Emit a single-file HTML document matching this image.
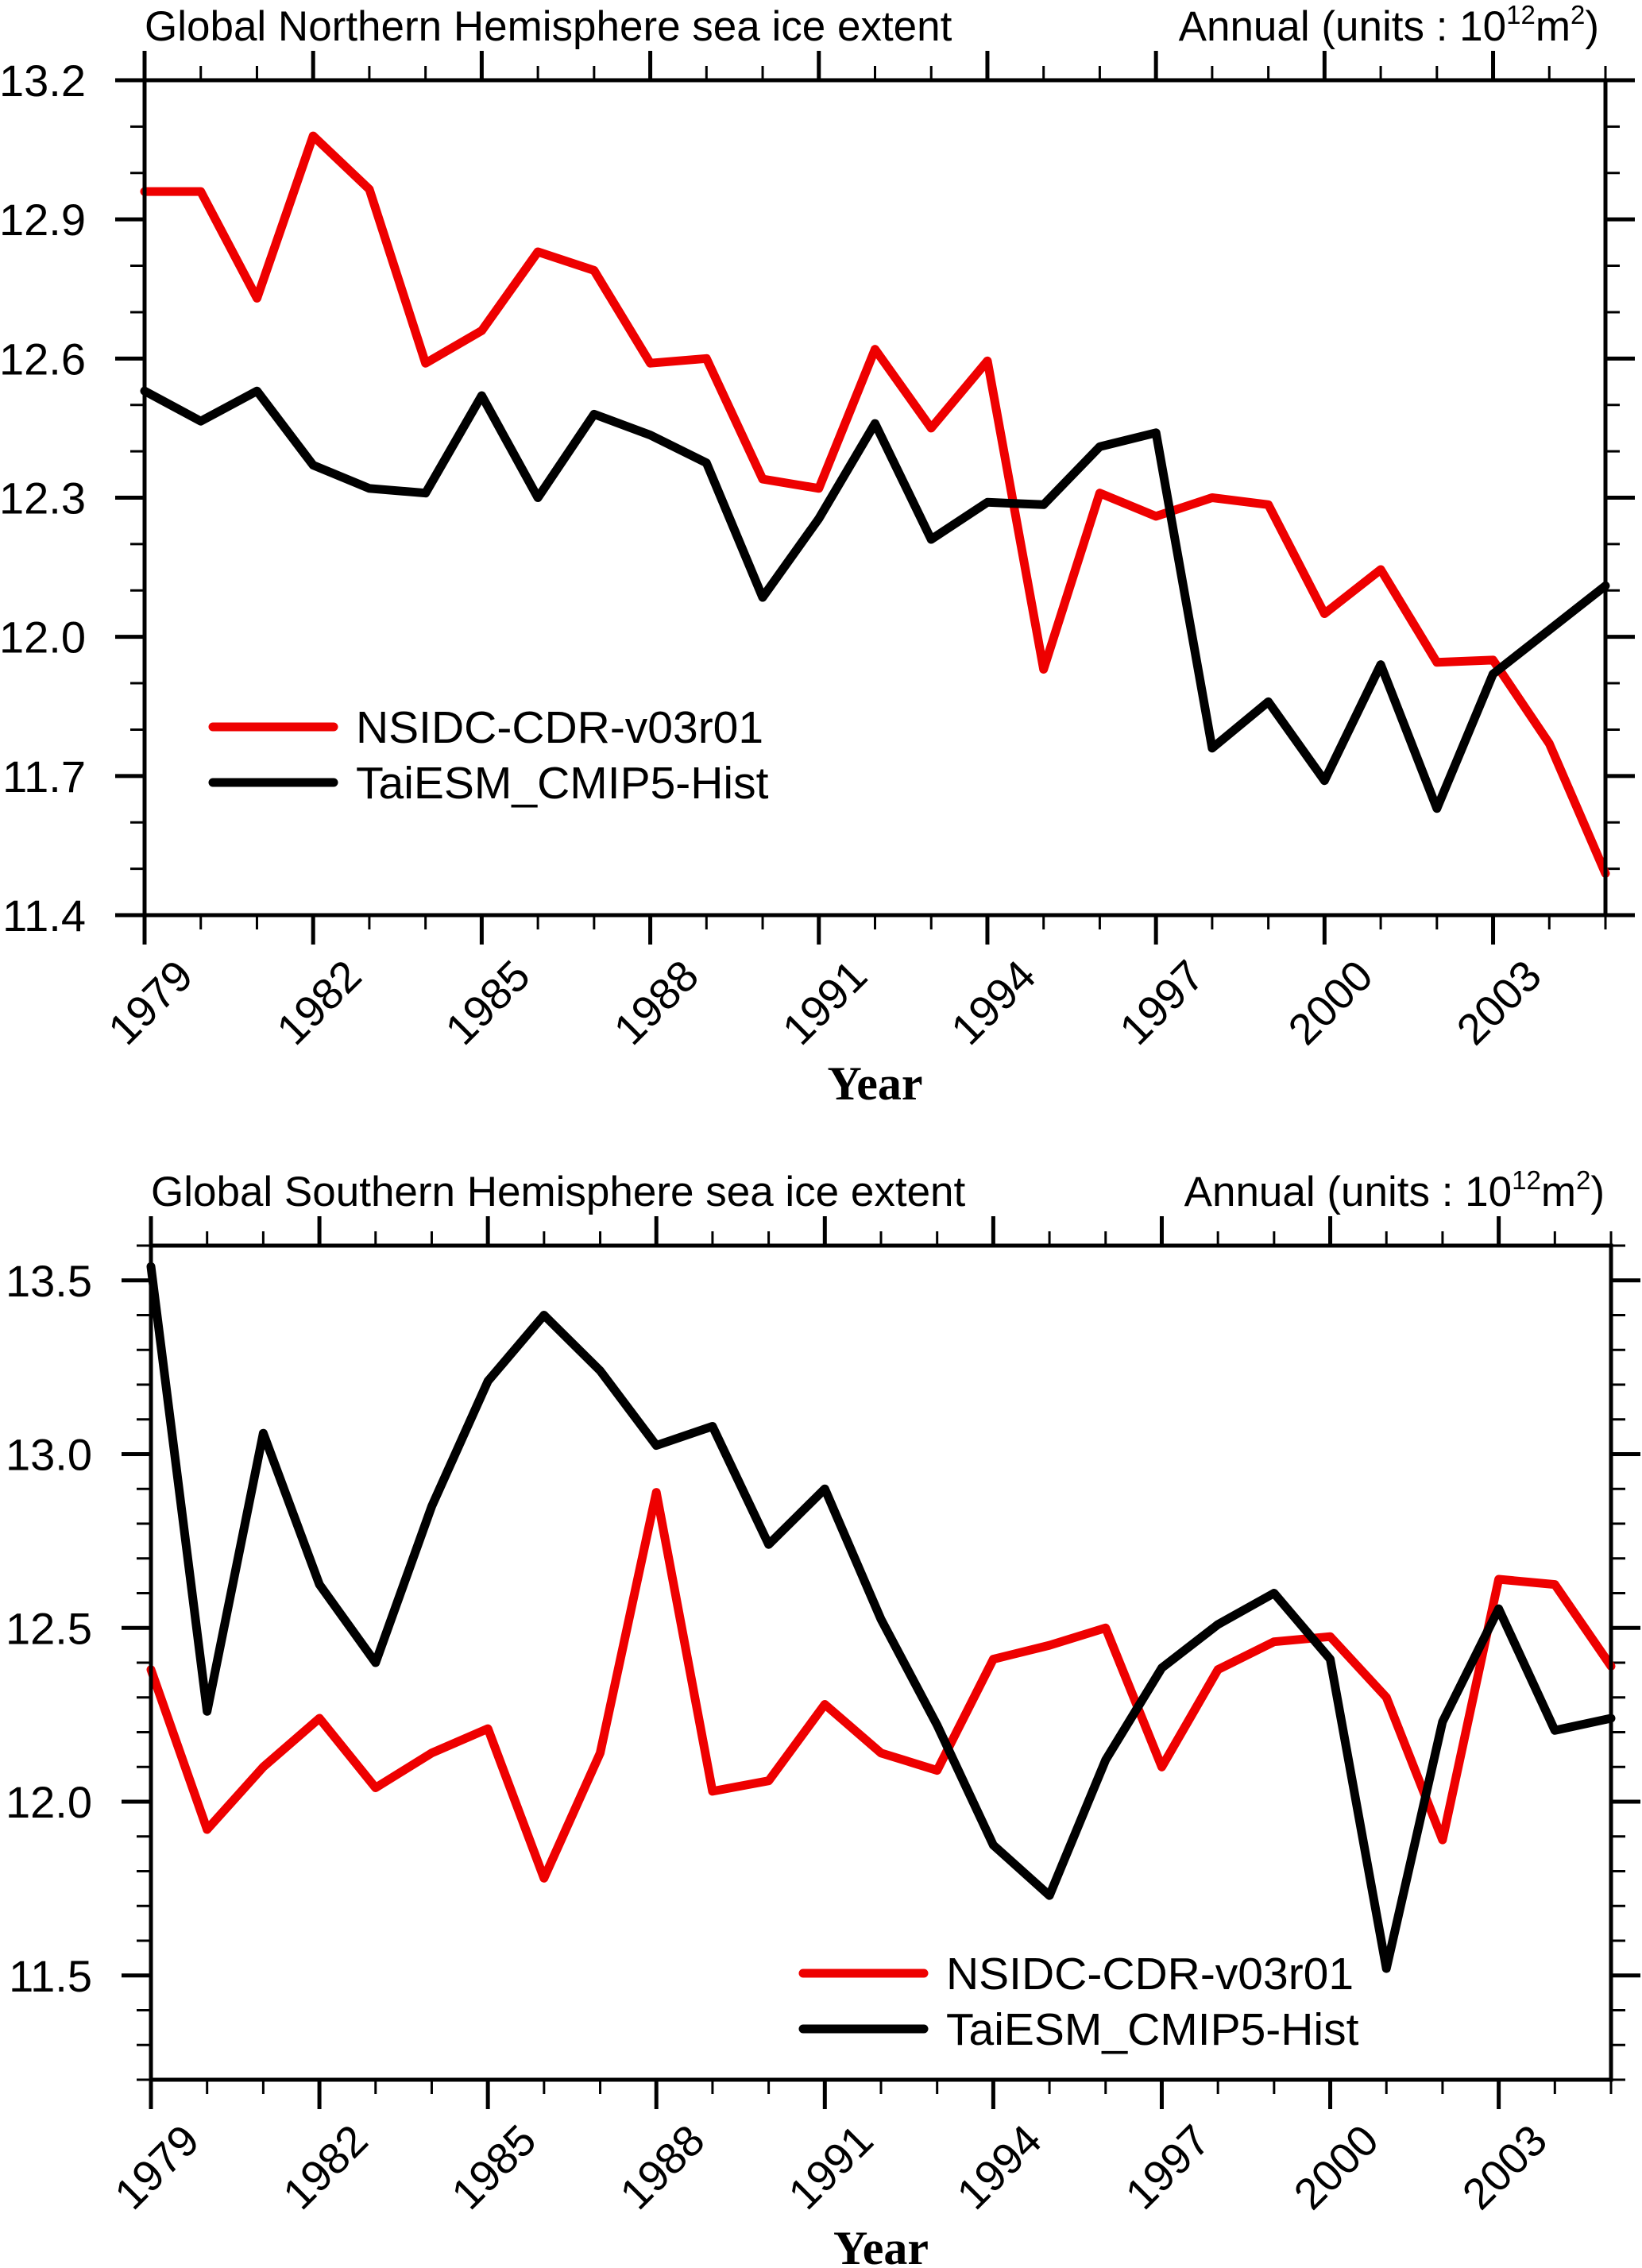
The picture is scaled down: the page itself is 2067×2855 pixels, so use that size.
<!DOCTYPE html>
<html><head><meta charset="utf-8"><style>
html,body{margin:0;padding:0;background:#fff}
svg{display:block}
text{font-family:"Liberation Sans",sans-serif;fill:#000}
</style></head><body>
<svg id="chart" width="2067" height="2855" viewBox="0 0 2067 2855" xmlns="http://www.w3.org/2000/svg"></svg>
<script>
const years = [1979,1980,1981,1982,1983,1984,1985,1986,1987,1988,1989,1990,1991,1992,1993,1994,1995,1996,1997,1998,1999,2000,2001,2002,2003,2004,2005];
const nhObs = [12.96,12.96,12.73,13.08,12.965,12.59,12.66,12.83,12.79,12.59,12.60,12.34,12.32,12.62,12.45,12.595,11.93,12.31,12.26,12.30,12.285,12.05,12.145,11.945,11.95,11.77,11.49];
const nhModel = [12.53,12.465,12.53,12.37,12.32,12.31,12.52,12.30,12.48,12.435,12.375,12.085,12.255,12.46,12.21,12.29,12.285,12.41,12.44,11.76,11.86,11.69,11.94,11.63,11.92,12.015,12.11];
const shObs = [12.38,11.92,12.10,12.24,12.04,12.14,12.21,11.78,12.14,12.89,12.03,12.06,12.28,12.14,12.09,12.41,12.45,12.50,12.10,12.38,12.46,12.475,12.30,11.89,12.64,12.625,12.39];
const shModel = [13.54,12.26,13.06,12.625,12.40,12.85,13.21,13.40,13.24,13.025,13.08,12.74,12.90,12.525,12.22,11.875,11.73,12.12,12.385,12.51,12.60,12.41,11.52,12.23,12.555,12.205,12.24];
const xTickLabels = ["1979","1982","1985","1988","1991","1994","1997","2000","2003"];
const nhYTicks = ["11.4","11.7","12.0","12.3","12.6","12.9","13.2"];
const shYTicks = ["11.5","12.0","12.5","13.0","13.5"];

const NS="http://www.w3.org/2000/svg";
const svg=document.getElementById('chart');
function mk(tag,attrs,parent){const e=document.createElementNS(NS,tag);for(const k in attrs)e.setAttribute(k,attrs[k]);(parent||svg).appendChild(e);return e;}

function panel(p){
  const g=mk('g',{});
  
  
  const X=y=>p.L+(y-1979)*(p.R-p.L)/(2005-1979);
  const Y=v=>p.B-(v-p.ymin)*(p.B-p.T)/(p.ymax-p.ymin);
  for(let yr=1979;yr<=2005;yr++){
    const maj=(yr-1979)%3===0, len=maj?37:18, x=X(yr);
    const t1=mk('line',{x1:x,x2:x,y1:p.B,y2:p.B+len,stroke:'#000','stroke-width':maj?5:3},g);
    
    
    const t2=mk('line',{x1:x,x2:x,y1:p.T,y2:p.T-len,stroke:'#000','stroke-width':maj?5:3},g);
    
    
  }
  xTickLabels.forEach(s=>{
    const x=X(+s);
    const t=mk('text',{transform:`translate(${x+64},${p.B+80}) rotate(-45)`,'text-anchor':'end','font-size':55},g);
    t.textContent=s;
    
    
  });
  const nMinor=Math.round((p.ymax-p.ymin)/0.1);
  for(let i=0;i<=nMinor;i++){
    const v=p.ymin+i*0.1, y=Y(v);
    const maj=Math.abs(((v-p.ymin0)/p.ystep)-Math.round((v-p.ymin0)/p.ystep))<1e-6;
    const len=maj?37:18;
    const a=mk('line',{x1:p.L-len,x2:p.L,y1:y,y2:y,stroke:'#000','stroke-width':maj?5:3},g);
    
    
    const b=mk('line',{x1:p.R,x2:p.R+len,y1:y,y2:y,stroke:'#000','stroke-width':maj?5:3},g);
    
    
  }
  p.yticks.forEach(s=>{
    const t=mk('text',{x:p.L-74,y:Y(+s)+20,'text-anchor':'end','font-size':56},g);
    t.textContent=s;
    
    
  });
  const series=[[p.obs,'#ee0000','observed-line'],[p.model,'#000','model-line']];
  series.forEach(([arr,c,n])=>{
    const pts=arr.map((v,i)=>X(years[i]).toFixed(1)+','+Y(v).toFixed(1)).join(' ');
    const l=mk('polyline',{points:pts,fill:'none',stroke:c,'stroke-width':11,'stroke-linejoin':'round','stroke-linecap':'round'},g);
    
    
  });
  const fr=mk('rect',{x:p.L,y:p.T,width:p.R-p.L,height:p.B-p.T,fill:'none',stroke:'#000','stroke-width':5},g);
  
  
  const tl=mk('text',{x:p.L,y:p.T-50,'font-size':53},g);
  tl.textContent=p.title;
  
  
  const tr=mk('text',{x:p.R-8,y:p.T-50,'text-anchor':'end','font-size':53},g);
  tr.innerHTML='Annual (units : 10<tspan font-size="33" dy="-21">12</tspan><tspan dy="21">m</tspan><tspan font-size="33" dy="-21">2</tspan><tspan dy="21">)</tspan>';
  
  
  [['NSIDC-CDR-v03r01','#ee0000',0],['TaiESM_CMIP5-Hist','#000',1]].forEach(([s,c,i])=>{
    const ly=p.legY+i*70;
    const ln=mk('line',{x1:p.legX,x2:p.legX+152,y1:ly,y2:ly,stroke:c,'stroke-width':11,'stroke-linecap':'round'},g);
    
    
    const t=mk('text',{x:p.legX+180,y:ly+20,'font-size':57},g);
    t.textContent=s;
    
    
  });
  const xl=mk('text',{x:(p.L+p.R)/2,y:p.B+232,'text-anchor':'middle','font-size':60,'font-weight':'bold',style:'font-family:"Liberation Serif",serif'},g);
  xl.textContent='Year';
  
  
}

panel({name:'northern-hemisphere-panel',L:182,R:2021,T:101,B:1152,ymin:11.4,ymax:13.2,ymin0:11.4,ystep:0.3,
  yticks:nhYTicks,obs:nhObs,model:nhModel,title:'Global Northern Hemisphere sea ice extent',legX:268,legY:915});
panel({name:'southern-hemisphere-panel',L:190,R:2028,T:1568,B:2618,ymin:11.2,ymax:13.6,ymin0:11.5,ystep:0.5,
  yticks:shYTicks,obs:shObs,model:shModel,title:'Global Southern Hemisphere sea ice extent',legX:1011,legY:2484});
</script>
</body></html>
